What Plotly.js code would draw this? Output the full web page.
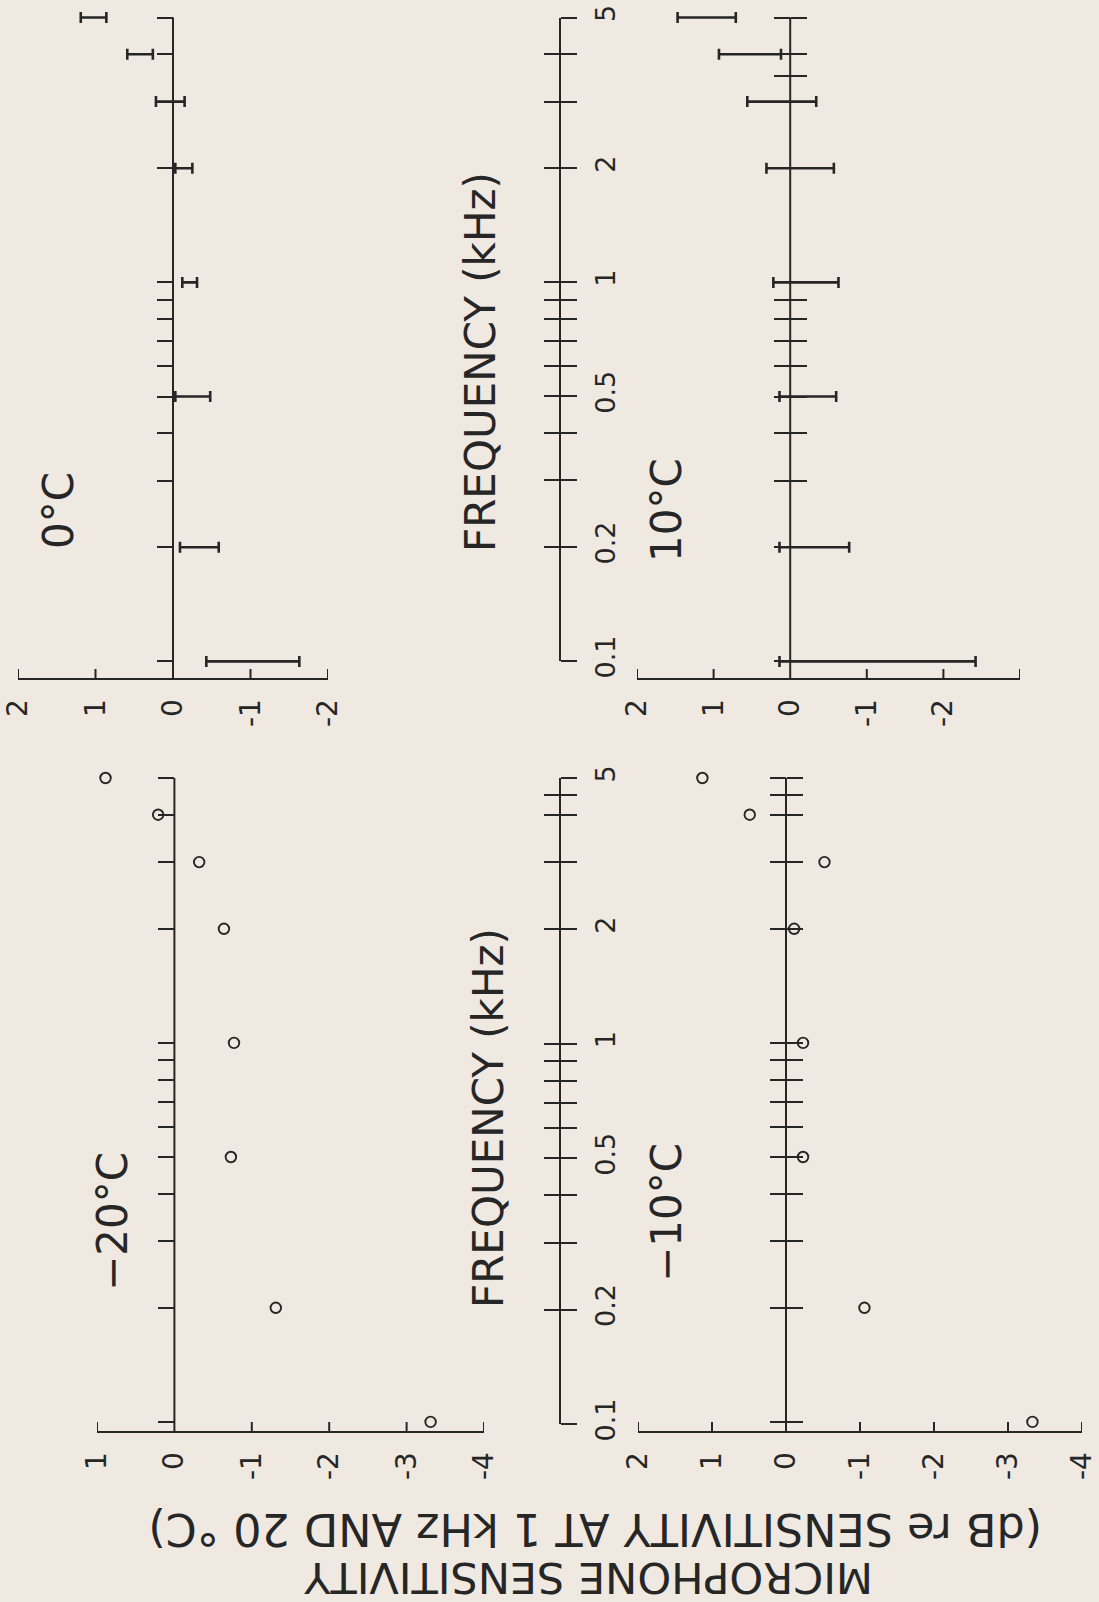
<!DOCTYPE html>
<html>
<head>
<meta charset="utf-8">
<script src="https://cdn.plot.ly/plotly-3.0.1.min.js"></script>
<style>
html,body{margin:0;padding:0;background:#efe9e2;}
#chart{width:1099px;height:1602px;}
</style>
</head>
<body>
<div id="chart"></div>
<script>
// ---------------- data ----------------
const freqKHz = [0.1, 0.2, 0.5, 1, 2, 3, 4, 5];

// -20 °C and -10 °C : single measured points (dB)
const sensMinus20 = [-3.31, -1.31, -0.73, -0.77, -0.64, -0.32, 0.21, 0.89];
const sensMinus10 = [-3.33, -1.06, -0.23, -0.23, -0.11, -0.52, 0.49, 1.13];

// 0 °C and 10 °C : ranges (low / high, dB)
const range0Low   = [-1.63, -0.59, -0.48, -0.31, -0.25, -0.15, 0.26, 0.86];
const range0High  = [-0.43, -0.09, -0.03, -0.12, -0.03, 0.22, 0.59, 1.19];
const range10Low  = [-2.42, -0.77, -0.60, -0.63, -0.57, -0.34, 0.12, 0.71];
const range10High = [0.14, 0.14, 0.14, 0.22, 0.31, 0.56, 0.93, 1.47];

// tick marks
const freqTicks = [0.1, 0.2, 0.3, 0.4, 0.5, 0.6, 0.7, 0.8, 0.9, 1, 2, 3, 4, 5];
const freqTickText = ['0.1', '0.2', '', '', '0.5', '', '', '', '', '1', '2', '', '', '5'];
const extraTick10 = [3.5];
const extraTickMinus10 = [4.5];

const sensTicks0 = [2, 1, 0, -1, -2];
const sensText0 = ['2', '1', '0', '-1', '-2'];
const sensTicks10 = [2, 1, 0, -1, -2, -3];
const sensText10 = ['2', '1', '0', '-1', '-2', ''];
const sensTicksM20 = [1, 0, -1, -2, -3, -4];
const sensTextM20 = ['1', '0', '-1', '-2', '-3', '-4'];
const sensTicksM10 = [2, 1, 0, -1, -2, -3, -4];
const sensTextM10 = ['2', '1', '0', '-1', '-2', '-3', '-4'];

const panelTitles = ['0°C', '10°C', '\u221220°C', '\u221210°C'];
const freqTitle = 'FREQUENCY (kHz)';
const captionLine1 = '(dB re SENSITIVITY AT 1 kHz AND 20 °C)';
const captionLine2 = 'MICROPHONE SENSITIVITY';

// ---------------- layout helpers ----------------
const W = 1099, H = 1602;
const ink = '#262626';
const paper = '#efe9e2';
const FONT = 'DejaVu Sans, Liberation Sans, sans-serif';
const fx = px => px / W;
const fy = py => 1 - py / H;
const lg = Math.log10;

const pxPerDecade = 379;
const headroom = 14;             // px above the 5 kHz level so end caps are not clipped
const hookLen = 9;               // px, upward ticks on the sensitivity axes
const topRow = {axisPx: 678, topPx: 17.5};
const botRow = {axisPx: 1431, topPx: 778};
function yRange(row) {
  const top = lg(5);
  return [top - (row.axisPx - row.topPx) / pxPerDecade, top + headroom / pxPerDecade];
}
function yDomain(row) { return [fy(row.axisPx), fy(row.topPx - headroom)]; }
function domainPx(row) { return row.axisPx - (row.topPx - headroom); }
function zeroPos(p) {
  return fx(p.x0 + (p.r[0] - 0) / (p.r[0] - p.r[1]) * (p.x1 - p.x0));
}

const P = {
  p0:   {x0: 18,  x1: 328,  r: [2, -2], row: topRow},
  p10:  {x0: 637, x1: 1020, r: [2, -3], row: topRow},
  pm20: {x0: 97,  x1: 484,  r: [1, -4], row: botRow},
  pm10: {x0: 638, x1: 1082, r: [2, -4], row: botRow}
};

function sensAxis(p, yid, vals, text) {
  return {
    domain: [fx(p.x0), fx(p.x1)], range: p.r, anchor: yid,
    showline: true, linecolor: ink, linewidth: 2,
    ticks: '', tickmode: 'array', tickvals: vals, ticktext: text,
    tickangle: -90, ticklabelstandoff: 8,
    tickfont: {family: FONT, size: 28, color: ink},
    showgrid: false, zeroline: false, fixedrange: true
  };
}
function freqAxis(p, vals, ticksDir, overlay) {
  const a = {
    type: 'log', range: yRange(p.row),
    anchor: 'free', position: zeroPos(p), side: 'left',
    showline: false,
    ticks: ticksDir, ticklen: 16, tickwidth: 2, tickcolor: ink,
    tickmode: 'array', tickvals: vals, showticklabels: false,
    showgrid: false, zeroline: false, fixedrange: true
  };
  if (overlay) a.overlaying = overlay;
  else a.domain = yDomain(p.row);
  return a;
}
function standaloneAxis(bottomPx, topPx, vals, text, ticksDir, showLine, labels, overlay) {
  const a = {
    type: 'log', range: [-1, lg(5)],
    anchor: 'free', position: fx(560), side: 'right',
    showline: showLine, linecolor: ink, linewidth: 2,
    ticks: ticksDir, ticklen: 16, tickwidth: 2, tickcolor: ink,
    tickmode: 'array', tickvals: vals, ticktext: text,
    showticklabels: labels, tickangle: -90, ticklabelstandoff: 6,
    tickfont: {family: FONT, size: 27, color: ink},
    showgrid: false, zeroline: false, fixedrange: true
  };
  if (overlay) a.overlaying = overlay;
  else a.domain = [fy(bottomPx), fy(topPx)];
  return a;
}
// the 0 dB line of each panel, from the sensitivity axis up to 5 kHz
function zeroLine(p, xid, yid) {
  return {type: 'line', xref: xid, yref: yid, x0: 0, x1: 0,
          y0: Math.pow(10, yRange(p.row)[0]), y1: 5, line: {color: ink, width: 2}};
}
// small upward ticks (and end hooks) on the sensitivity axis
function hooks(p, xid, yid, vals) {
  const h = hookLen / domainPx(p.row);
  return vals.filter(v => v !== 0).map(v => ({
    type: 'line', xref: xid, yref: yid + ' domain', x0: v, x1: v, y0: 0, y1: h,
    line: {color: ink, width: 2}
  }));
}

// ---------------- traces ----------------
function rangeTrace(lo, hi, xa, ya) {
  const mid = lo.map((v, i) => (v + hi[i]) / 2);
  const half = lo.map((v, i) => (hi[i] - v) / 2);
  return {
    type: 'scatter', mode: 'markers', x: mid, y: freqKHz, xaxis: xa, yaxis: ya,
    marker: {size: 1, color: 'rgba(0,0,0,0)'},
    error_x: {type: 'data', array: half, visible: true, color: ink, thickness: 2.6, width: 5.5},
    cliponaxis: false, hoverinfo: 'skip', showlegend: false
  };
}
function pointTrace(vals, xa, ya) {
  return {
    type: 'scatter', mode: 'markers', x: vals, y: freqKHz, xaxis: xa, yaxis: ya,
    marker: {symbol: 'circle-open', size: 10.5, color: ink, line: {width: 1.9, color: ink}},
    cliponaxis: false, hoverinfo: 'skip', showlegend: false
  };
}
function dummy(xa, ya) {
  return {type: 'scatter', mode: 'markers', x: [0], y: [1], xaxis: xa, yaxis: ya,
          marker: {opacity: 0}, hoverinfo: 'skip', showlegend: false};
}

const traces = [
  rangeTrace(range0Low, range0High, 'x', 'y'),
  rangeTrace(range10Low, range10High, 'x2', 'y2'),
  pointTrace(sensMinus20, 'x3', 'y3'),
  pointTrace(sensMinus10, 'x4', 'y4'),
  dummy('x2', 'y6'), dummy('x4', 'y7'),
  dummy('x5', 'y5'), dummy('x5', 'y8'),
  dummy('x6', 'y9'), dummy('x6', 'y10')
];

// ---------------- annotations ----------------
function note(text, cx, cy, size, angle) {
  return {text: text, x: fx(cx), y: fy(cy), xref: 'paper', yref: 'paper',
          xanchor: 'center', yanchor: 'middle', showarrow: false, textangle: angle,
          font: {family: FONT, size: size, color: ink}};
}
const annotations = [
  note(panelTitles[0], 58, 511, 42, -90),
  note(panelTitles[1], 666, 510, 42, -90),
  note(panelTitles[2], 112, 1222, 42, -90),
  note(panelTitles[3], 666, 1213, 42, -90),
  note(freqTitle, 480, 362, 42, -90),
  note(freqTitle, 488, 1118, 42, -90),
  note(captionLine1, 595, 1530, 44.5, 180),
  note(captionLine2, 588, 1578, 43, 180)
];

const layout = {
  width: W, height: H,
  margin: {l: 0, r: 0, t: 0, b: 0, pad: 0},
  paper_bgcolor: paper, plot_bgcolor: 'rgba(0,0,0,0)',
  showlegend: false,
  font: {family: FONT, color: ink},
  xaxis:  sensAxis(P.p0, 'y', sensTicks0, sensText0),
  yaxis:  freqAxis(P.p0, freqTicks, 'outside'),
  xaxis2: sensAxis(P.p10, 'y2', sensTicks10, sensText10),
  yaxis2: freqAxis(P.p10, freqTicks.concat(extraTick10), 'outside'),
  yaxis6: freqAxis(P.p10, freqTicks.concat(extraTick10), 'inside', 'y2'),
  xaxis3: sensAxis(P.pm20, 'y3', sensTicksM20, sensTextM20),
  yaxis3: freqAxis(P.pm20, freqTicks, 'outside'),
  xaxis4: sensAxis(P.pm10, 'y4', sensTicksM10, sensTextM10),
  yaxis4: freqAxis(P.pm10, freqTicks.concat(extraTickMinus10), 'outside'),
  yaxis7: freqAxis(P.pm10, freqTicks.concat(extraTickMinus10), 'inside', 'y4'),
  xaxis5: {domain: [0.50, 0.51], anchor: 'y5', visible: false, fixedrange: true},
  yaxis5: standaloneAxis(661, 17.5, freqTicks, freqTickText, 'outside', true, true),
  yaxis8: standaloneAxis(661, 17.5, freqTicks, freqTickText, 'inside', false, false, 'y5'),
  xaxis6: {domain: [0.50, 0.51], anchor: 'y9', visible: false, fixedrange: true},
  yaxis9: standaloneAxis(1424, 778, freqTicks.concat(extraTickMinus10), freqTickText.concat(['']), 'outside', true, true),
  yaxis10: standaloneAxis(1424, 778, freqTicks.concat(extraTickMinus10), freqTickText.concat(['']), 'inside', false, false, 'y9'),
  shapes: [
    zeroLine(P.p0, 'x', 'y'), zeroLine(P.p10, 'x2', 'y2'),
    zeroLine(P.pm20, 'x3', 'y3'), zeroLine(P.pm10, 'x4', 'y4')
  ].concat(
    hooks(P.p0, 'x', 'y', sensTicks0),
    hooks(P.p10, 'x2', 'y2', sensTicks10),
    hooks(P.pm20, 'x3', 'y3', sensTicksM20),
    hooks(P.pm10, 'x4', 'y4', sensTicksM10)
  ),
  annotations: annotations
};

Plotly.newPlot('chart', traces, layout, {staticPlot: true, displayModeBar: false});
</script>
</body>
</html>
